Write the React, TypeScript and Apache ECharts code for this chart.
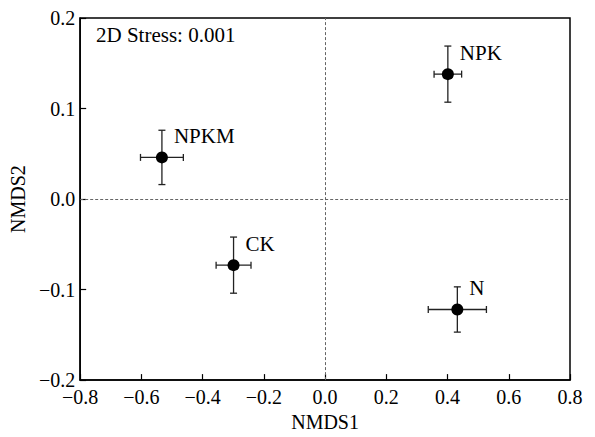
import React, { useEffect, useRef } from "react";
import * as echarts from "echarts";

const groups = ["NPK", "NPKM", "CK", "N"];
const nmds1 = [0.401, -0.533, -0.299, 0.432];
const nmds2 = [0.138, 0.046, -0.073, -0.122];
const err1 = [0.045, 0.07, 0.057, 0.095];
const err2 = [0.031, 0.03, 0.031, 0.025];
const stressText = "2D Stress: 0.001";

const FONT = "Liberation Serif";

const fmt = (v: number) => {
  if (Math.abs(v) < 1e-9) return "0.0";
  return v.toFixed(1).replace("-", "\u2212");
};

export default function App() {
  const ref = useRef<HTMLDivElement>(null);
  useEffect(() => {
    if (!ref.current) return;
    const chart = echarts.init(ref.current, null, { renderer: "svg" });
    const pts = groups.map((g, i) => ({ name: g, value: [nmds1[i], nmds2[i]] }));
    const errData = groups.map((g, i) => [nmds1[i], nmds2[i], err1[i], err2[i]]);
    const cap = 3.5;
    chart.setOption({
      animation: false,
      backgroundColor: "#fff",
      textStyle: { fontFamily: FONT },
      grid: {
        left: 75,
        right: 25,
        top: 18,
        bottom: 53,
        show: true,
        borderColor: "#000",
        borderWidth: 1.5,
        backgroundColor: "transparent",
      },
      xAxis: {
        type: "value",
        min: -0.8,
        max: 0.8,
        interval: 0.2,
        name: "NMDS1",
        nameLocation: "middle",
        nameGap: 29,
        nameTextStyle: { fontFamily: FONT, fontSize: 20, color: "#000" },
        axisLine: { show: true, onZero: false, lineStyle: { color: "#000", width: 1.5 } },
        axisTick: { show: true, inside: true, length: 6, lineStyle: { color: "#000", width: 1.2 } },
        axisLabel: { fontFamily: FONT, fontSize: 20, color: "#000", margin: 7, formatter: fmt },
        splitLine: { show: false },
      },
      yAxis: {
        type: "value",
        min: -0.2,
        max: 0.2,
        interval: 0.1,
        name: "NMDS2",
        nameLocation: "middle",
        nameGap: 41,
        nameTextStyle: { fontFamily: FONT, fontSize: 20, color: "#000" },
        axisLine: { show: true, onZero: false, lineStyle: { color: "#000", width: 1.5 } },
        axisTick: { show: true, inside: true, length: 6, lineStyle: { color: "#000", width: 1.2 } },
        axisLabel: { fontFamily: FONT, fontSize: 20, color: "#000", margin: 5, formatter: fmt },
        splitLine: { show: false },
      },
      graphic: [
        {
          type: "text",
          left: 96,
          top: 24,
          style: { text: stressText, font: `21px "${FONT}"`, fill: "#000" },
        },
      ],
      series: [
        {
          type: "custom",
          data: errData,
          z: 3,
          silent: true,
          renderItem: (params: any, api: any) => {
            const x = api.value(0);
            const y = api.value(1);
            const ex = api.value(2);
            const ey = api.value(3);
            const l = api.coord([x - ex, y]);
            const r = api.coord([x + ex, y]);
            const t = api.coord([x, y + ey]);
            const b = api.coord([x, y - ey]);
            const st = { stroke: "#222", lineWidth: 1.3 };
            return {
              type: "group",
              children: [
                { type: "line", shape: { x1: l[0], y1: l[1], x2: r[0], y2: r[1] }, style: st },
                { type: "line", shape: { x1: l[0], y1: l[1] - cap, x2: l[0], y2: l[1] + cap }, style: st },
                { type: "line", shape: { x1: r[0], y1: r[1] - cap, x2: r[0], y2: r[1] + cap }, style: st },
                { type: "line", shape: { x1: t[0], y1: t[1], x2: b[0], y2: b[1] }, style: st },
                { type: "line", shape: { x1: t[0] - cap, y1: t[1], x2: t[0] + cap, y2: t[1] }, style: st },
                { type: "line", shape: { x1: b[0] - cap, y1: b[1], x2: b[0] + cap, y2: b[1] }, style: st },
              ],
            };
          },
        },
        {
          type: "scatter",
          data: pts,
          z: 4,
          symbol: "circle",
          symbolSize: 12,
          itemStyle: { color: "#000", opacity: 1 },
          label: {
            show: true,
            position: "right",
            distance: 6,
            offset: [0, -21],
            formatter: "{b}",
            fontFamily: FONT,
            fontSize: 21,
            color: "#000",
          },
          markLine: {
            silent: true,
            symbol: "none",
            label: { show: false },
            lineStyle: { color: "#666", type: [3, 2], width: 1 },
            data: [{ xAxis: 0 }, { yAxis: 0 }],
          },
        },
      ],
    });
    return () => chart.dispose();
  }, []);
  return (
    <div
      ref={ref}
      style={{ position: "absolute", left: 0, top: 0, width: 595, height: 437 }}
    />
  );
}
